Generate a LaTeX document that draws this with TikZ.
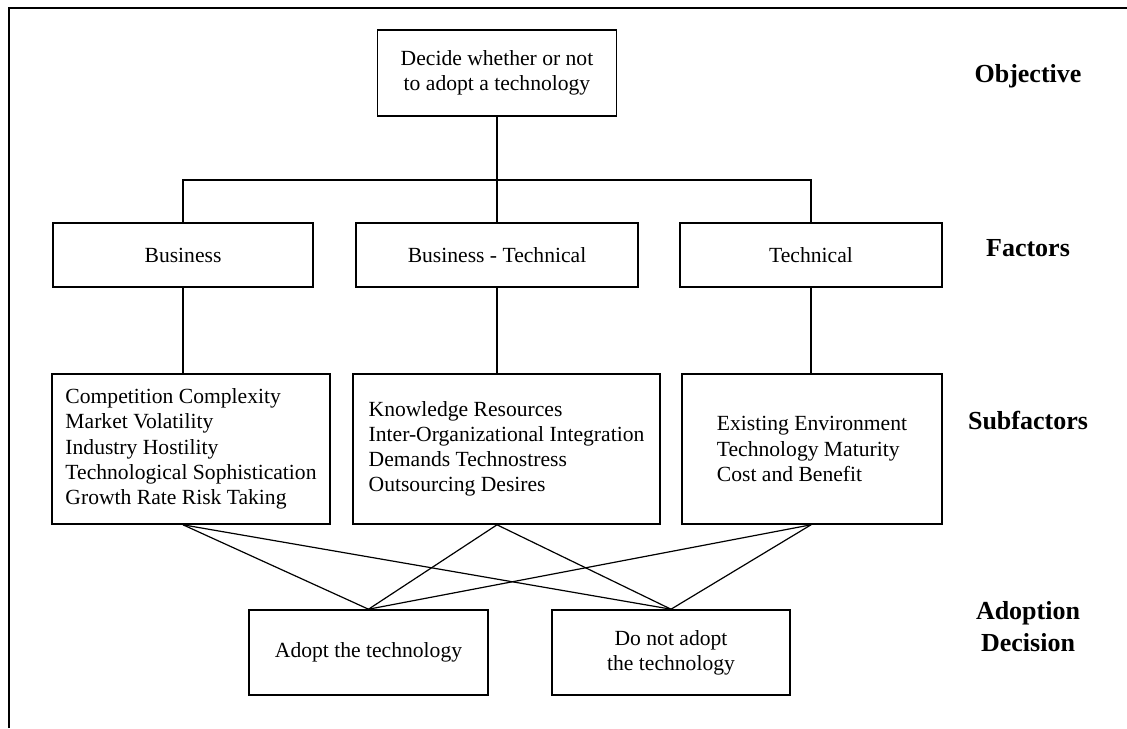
\documentclass[tikz,border=0pt]{standalone}
\usepackage{fontspec}
\setmainfont{Liberation Serif}
\usetikzlibrary{positioning}

\begin{document}
\begin{tikzpicture}[x=0.5pt, y=-0.5pt,
    box/.style={draw, line width=0.8pt, inner sep=0pt, align=center,
        font=\fontsize{10.8}{12.6}\selectfont},
    subbox/.style={box, align=left, minimum height=75pt},
    factorbox/.style={box, minimum height=32pt},
    level/.style={font=\fontsize{13}{16}\selectfont\bfseries, align=center},
    link/.style={line width=0.6pt}]
    \useasboundingbox (0,0) rectangle (1127,728);

    % Frame
    \draw[line width=1.4pt] (9,728) -- (9,8) -- (1127,8);

    % Objective
    \node[box, minimum width=119.5pt, minimum height=43pt] (obj) at (497,73)
        {Decide whether or not\\to adopt a technology};

    % Factors
    \node[factorbox, minimum width=130pt] (fbus) at (183,255) {Business};
    \node[factorbox, minimum width=141pt] (fbt) at (497,255) {Business - Technical};
    \node[factorbox, minimum width=131pt] (ftech) at (811,255) {Technical};

    % Subfactors
    \node[subbox, minimum width=139pt] (sbus) at (191,449)
        {Competition Complexity\\Market Volatility\\Industry Hostility\\Technological Sophistication\\Growth Rate Risk Taking};
    \node[subbox, minimum width=153.5pt] (sbt) at (506.5,449)
        {Knowledge Resources\\Inter-Organizational Integration\\Demands Technostress\\Outsourcing Desires};
    \node[subbox, minimum width=130pt] (stech) at (812,449)
        {Existing Environment\\Technology Maturity\\Cost and Benefit};

    % Adoption decision
    \node[box, minimum width=119.5pt, minimum height=42.5pt] (adopt) at (368.5,652.5)
        {Adopt the technology};
    \node[box, minimum width=119pt, minimum height=42.5pt] (reject) at (671,652.5)
        {Do not adopt\\the technology};

    % Level labels
    \node[level] (lobj) at (1028,76) {Objective};
    \node[level] (lfac) at (1028,248) {Factors};
    \node[level] (lsub) at (1028,420) {Subfactors};
    \node[level] (ldec) at (1028,627) {Adoption\\Decision};

    % Tree
    \coordinate (split) at (497,180);
    \draw[link] (obj.south) -- (split);
    \draw[link] (fbus.north) |- (split) -| (ftech.north);
    \draw[link] (split) -- (fbt.north);
    \foreach \f/\s in {fbus/sbus, fbt/sbt, ftech/stech} {
        \draw[link] (\f.south) -- (\f.south |- \s.north);
        \draw[link] (\f.south |- \s.south) -- (adopt.north);
        \draw[link] (\f.south |- \s.south) -- (reject.north);
    }
\end{tikzpicture}
\end{document}
